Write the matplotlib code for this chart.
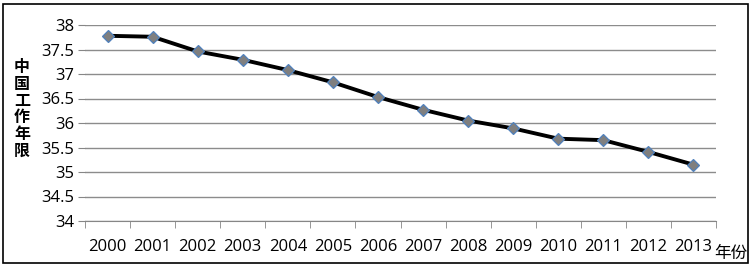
import numpy as np
import matplotlib
matplotlib.use("Agg")
import matplotlib.pyplot as plt
from matplotlib.patches import Rectangle

plt.rcParams['font.family'] = ['Open Sans', 'Noto Sans CJK SC', 'DejaVu Sans']

years = ['2000', '2001', '2002', '2003', '2004', '2005', '2006',
         '2007', '2008', '2009', '2010', '2011', '2012', '2013']
work_years = [37.78, 37.76, 37.46, 37.29, 37.08, 36.83, 36.53,
              36.27, 36.05, 35.89, 35.68, 35.65, 35.41, 35.15]
y_ticks = [34, 34.5, 35, 35.5, 36, 36.5, 37, 37.5, 38]
y_label = '中国工作年限'
x_label = '年份'

fig = plt.figure(figsize=(7.51, 2.67), dpi=100)
ax = fig.add_axes([85/751, 1 - 221/267, 631/751, 196/267])

x = np.arange(len(years))
ax.plot(x, work_years, color='black', linewidth=2.8, zorder=3,
        marker='D', markersize=6.5, markerfacecolor='#7f7f7f',
        markeredgecolor='#4f81bd', markeredgewidth=0.9)

ax.set_xlim(-0.5, len(years) - 0.5)
ax.set_ylim(34, 38)
ax.set_yticks(y_ticks)
ax.set_yticklabels([f'{v:g}' for v in y_ticks], fontsize=12)
ax.set_xticks(x)
ax.set_xticklabels(years, fontsize=12)
ax.set_xticks(np.arange(-0.5, len(years)), minor=True)
ax.tick_params(axis='x', which='major', length=0, pad=13)
ax.tick_params(axis='x', which='minor', length=5, color='#868686')
ax.tick_params(axis='y', length=5, color='#868686', pad=3)
ax.grid(axis='y', color='#8c8c8c', linewidth=1)
ax.set_axisbelow(True)
for s in ['top', 'right', 'left']:
    ax.spines[s].set_visible(False)
ax.spines['bottom'].set_color('#868686')

fig.text(22/751, 1 - 109/267, '\n'.join(y_label), fontsize=11.5,
         ha='center', va='center', linespacing=1.05, weight='bold',
         family=['Noto Sans CJK SC'])
fig.text(731/751, 1 - 253/267, x_label, fontsize=12,
         ha='center', va='center', family=['Noto Sans CJK SC'])

fig.patches.append(Rectangle((3/751, 4/267), 745/751, 259/267,
                             transform=fig.transFigure, fill=False,
                             edgecolor='black', linewidth=1.2))

fig.savefig('out.png', dpi=100)
